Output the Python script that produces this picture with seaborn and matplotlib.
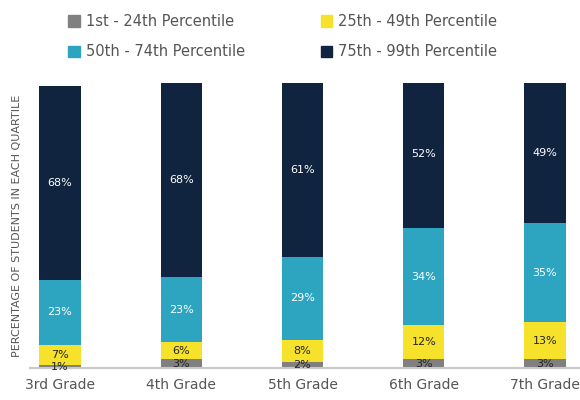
import matplotlib
matplotlib.use("Agg")
import matplotlib.pyplot as plt
import matplotlib.patches as mpatches
import numpy as np
import seaborn as sns

grades = ["3rd Grade", "4th Grade", "5th Grade", "6th Grade", "7th Grade"]
q1 = [1, 3, 2, 3, 3]        # 1st - 24th
q2 = [7, 6, 8, 12, 13]      # 25th - 49th
q3 = [23, 23, 29, 34, 35]   # 50th - 74th
q4 = [68, 68, 61, 52, 49]   # 75th - 99th
series_names = ["1st - 24th Percentile", "25th - 49th Percentile",
                "50th - 74th Percentile", "75th - 99th Percentile"]

colors = ["#808080", "#F6E12B", "#2EA5C0", "#10233F"]
text_colors = ["#222222", "#222222", "white", "white"]

sns.set_theme(style="white")
plt.rcParams['font.family'] = ['DejaVu Sans']

fig = plt.figure(figsize=(5.8, 4), dpi=100)
ax = fig.add_axes([30 / 580, 32 / 400, 550 / 580, 285 / 400])

series = [q1, q2, q3, q4]
cum = np.cumsum(np.array(series), axis=0)

# draw tallest stack first, then each lower level over it
for i in range(3, -1, -1):
    sns.barplot(x=grades, y=cum[i], color=colors[i], width=0.34,
                saturation=1, ax=ax, linewidth=0)

for i in range(4):
    for j, g in enumerate(grades):
        bottom = cum[i][j] - series[i][j]
        ax.text(j, bottom + series[i][j] / 2, f"{series[i][j]}%",
                ha="center", va="center", fontsize=8,
                color=text_colors[i])

ax.set_xlim(-0.247, 4.289)
ax.set_ylim(0, 100)
ax.set_yticks([])
ax.set_xlabel("")
ax.set_ylabel("PERCENTAGE OF STUDENTS IN EACH QUARTILE", fontsize=8,
              color="#555555", labelpad=6)
ax.tick_params(axis="x", length=0, labelsize=10, labelcolor="#555555", pad=7)
for s in ["top", "left", "right"]:
    ax.spines[s].set_visible(False)
ax.spines["bottom"].set_color("#C8C8C8")
ax.spines["bottom"].set_linewidth(1.5)

handles = [mpatches.Patch(color=colors[k], label=series_names[k]) for k in [0, 2, 1, 3]]
fig.legend(handles=handles, ncol=2, loc="upper left",
           bbox_to_anchor=(55 / 580, 1.0 - 1 / 400), frameon=False,
           fontsize=10.5, labelcolor="#555555", handlelength=0.8,
           handleheight=0.8, handletextpad=0.4, columnspacing=5.2,
           labelspacing=1.05)

fig.savefig("out.png", dpi=100)
